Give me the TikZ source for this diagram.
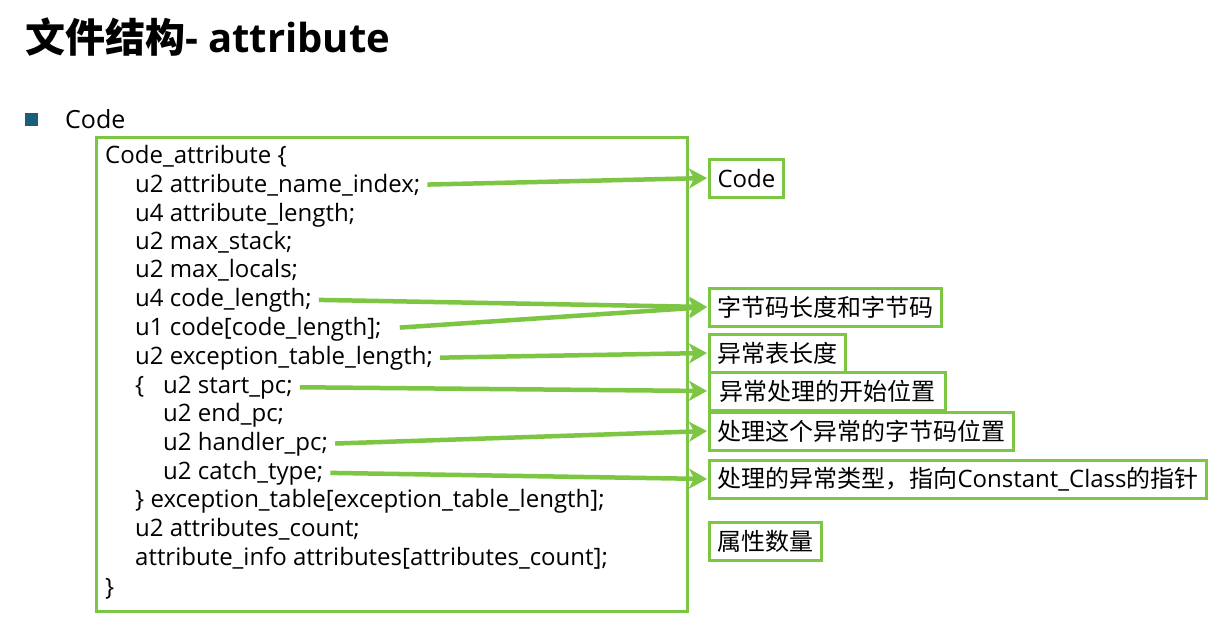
\documentclass[tikz,border=0pt]{standalone}
\usepackage{fontspec}
\setmainfont{Open Sans}
\newfontfamily\cjk{Noto Sans CJK SC}
\usetikzlibrary{arrows.meta}
\definecolor{lime}{RGB}{125,198,68}
\definecolor{teal}{RGB}{27,94,122}
\newcommand{\codefont}{\fontsize{24}{29}\selectfont}
\begin{document}
\begin{tikzpicture}[x=1pt,y=-1pt,
  codeline/.style={anchor=base west, inner sep=0pt, font=\codefont},
  note/.style={draw=lime, line width=3pt, anchor=west, inner xsep=8pt, inner ysep=0pt, minimum height=38pt, font=\codefont},
  arr/.style={draw=lime, line width=4.5pt, -{Stealth[length=18pt,width=20pt,inset=5pt]}, shorten <=7pt, shorten >=1pt}]
\useasboundingbox (0,0) rectangle (1216,619);
\fill[white] (0,0) rectangle (1216,619);
% title
\node[anchor=base west, inner sep=0pt, font=\fontsize{40}{46}\selectfont\bfseries] (title) at (25,52) {{\cjk 文件结构}- attribute};
% bullet
\node[fill=teal, minimum size=13pt, inner sep=0pt, anchor=north west] (bullet) at (25,113) {};
\node[codeline, font=\fontsize{25}{30}\selectfont] (code) at (65,128) {Code};
% main box
\node[draw=lime, line width=3pt, minimum width=591pt, minimum height=474pt, anchor=north west, inner sep=0pt] (mainbox) at (95,136) {};
% code lines
\node[codeline] (l1) at (105,163) {Code\_attribute \{};
\node[codeline] (l2) at (135,192) {u2 attribute\_name\_index;};
\node[codeline] (l3) at (135,221) {u4 attribute\_length;};
\node[codeline] (l4) at (135,249) {u2 max\_stack;};
\node[codeline] (l5) at (135,277) {u2 max\_locals;};
\node[codeline] (l6) at (135,306) {u4 code\_length;};
\node[codeline] (l7) at (135,335) {u1 code[code\_length];};
\node[codeline] (l8) at (135,364) {u2 exception\_table\_length;};
\node[codeline] (l9a) at (135,393) {\{};
\node[codeline] (l9) at (163,393) {u2 start\_pc;};
\node[codeline] (l10) at (163,421) {u2 end\_pc;};
\node[codeline] (l11) at (163,450) {u2 handler\_pc;};
\node[codeline] (l12) at (163,479) {u2 catch\_type;};
\node[codeline] (l13) at (135,507) {\} exception\_table[exception\_table\_length];};
\node[codeline] (l14) at (135,536) {u2 attributes\_count;};
\node[codeline] (l15) at (135,565) {attribute\_info attributes[attributes\_count];};
\node[codeline] (l16) at (105,595) {\}};
% notes
\node[note] (n1) at (708,178) {Code};
\node[note] (n2) at (708,307) {\cjk 字节码长度和字节码};
\node[note] (n3) at (708,353) {\cjk 异常表长度};
\node[note, inner xsep=10pt] (n4) at (708,391) {\cjk 异常处理的开始位置};
\node[note] (n5) at (708,431) {\cjk 处理这个异常的字节码位置};
\node[note] (n6) at (708,479) {{\cjk 处理的异常类型，指向}Constant\_Class{\cjk 的指针}};
\node[note] (n7) at (708,541) {\cjk 属性数量};
% arrows
\draw[arr] (l2.east) -- (n1.west);
\draw[arr] (l6.east) -- (n2.west);
\draw[arr, shorten <=18pt] (l7.east) -- (n2.west);
\draw[arr] (l8.east) -- (n3.west);
\draw[arr] (l9.east) -- (n4.west);
\draw[arr] (l11.east) -- (n5.west);
\draw[arr] (l12.east) -- (n6.west);
\end{tikzpicture}
\end{document}
